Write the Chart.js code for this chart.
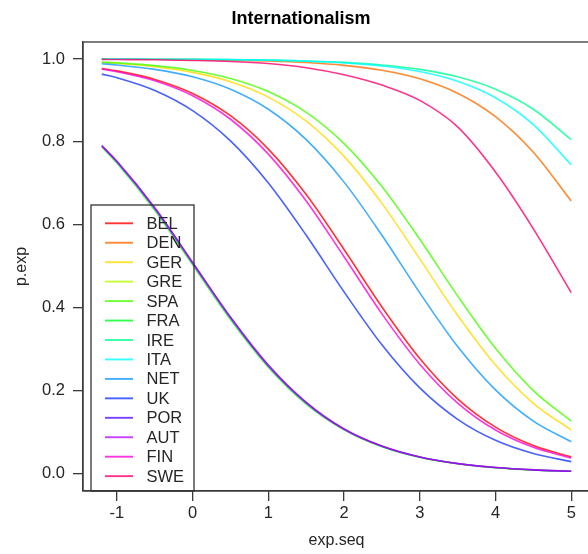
<!DOCTYPE html>
<html><head><meta charset="utf-8">
<script src="https://cdn.jsdelivr.net/npm/chart.js@4/dist/chart.umd.min.js"></script>
<style>html,body{margin:0;padding:0;background:#fff;overflow:hidden;} #wrap{width:602px;height:554px;}</style>
</head><body><div id="wrap"><canvas id="c" width="602" height="554"></canvas></div>
<script>
const titleText = "Internationalism";
const xTitle = "exp.seq";
const yTitle = "p.exp";
const countries = ["BEL","DEN","GER","GRE","SPA","FRA","IRE","ITA","NET","UK","POR","AUT","FIN","SWE"];
const colors = ["rgba(255,0,0,0.8)","rgba(255,109,0,0.8)","rgba(255,219,0,0.8)","rgba(182,255,0,0.8)","rgba(73,255,0,0.8)","rgba(0,255,36,0.8)","rgba(0,255,146,0.8)","rgba(0,255,255,0.8)","rgba(0,146,255,0.75)","rgba(0,36,255,0.72)","rgba(73,0,255,0.75)","rgba(182,0,255,0.75)","rgba(255,0,219,0.8)","rgba(255,0,109,0.8)"];
const xs = [-1.2,-1,-0.5,0,0.5,1,1.5,2,2.5,3,3.5,4,4.5,5];
const xTicks = [-1,0,1,2,3,4,5];
const yTicks = [0,0.2,0.4,0.6,0.8,1.0];

const BEL = [0.9769,0.9713,0.9507,0.9168,0.8630,0.7825,0.6726,0.5399,0.4013,0.2769,0.1795,0.1111,0.0666,0.0392];
const DEN = [0.9996,0.9995,0.9992,0.9985,0.9973,0.9952,0.9914,0.9846,0.9728,0.9521,0.9172,0.8606,0.7747,0.6570];
const GER = [0.9913,0.9891,0.9812,0.9677,0.9451,0.9080,0.8500,0.7649,0.6514,0.5175,0.3811,0.2612,0.1687,0.1043];
const GRE = [0.790,0.752,0.639,0.5075,0.375,0.259,0.169,0.106,0.0648,0.0388,0.0230,0.0135,0.0079,0.0046];
const SPA = [0.9925,0.9906,0.9839,0.9723,0.9530,0.9213,0.8710,0.7957,0.6921,0.5646,0.4280,0.3015,0.1994,0.1256];
const FRA = [0.788,0.749,0.635,0.503,0.371,0.256,0.167,0.105,0.0640,0.0383,0.0227,0.0133,0.0078,0.0045];
const IRE = [0.9998,0.9997,0.9995,0.9991,0.9984,0.9973,0.9952,0.9917,0.9855,0.9749,0.9569,0.9269,0.8787,0.8053];
const ITA = [0.9998,0.9997,0.9995,0.9992,0.9985,0.9972,0.9949,0.9907,0.9832,0.9698,0.9463,0.9064,0.8416,0.7446];
const NET = [0.9884,0.9855,0.9749,0.9569,0.9269,0.8787,0.8053,0.7027,0.5744,0.4354,0.3058,0.2010,0.1256,0.0759];
const UK  = [0.9634,0.9548,0.9241,0.8754,0.8022,0.7006,0.5744,0.4378,0.3100,0.2059,0.1301,0.0794,0.0474,0.0279];
const POR = [0.791,0.753,0.641,0.509,0.377,0.261,0.171,0.107,0.0655,0.0392,0.0233,0.0137,0.0080,0.0047];
const AUT = [0.790,0.752,0.639,0.507,0.375,0.259,0.170,0.106,0.0650,0.0389,0.0231,0.0136,0.0079,0.0046];
const FIN = [0.9753,0.9692,0.9473,0.9113,0.8545,0.7703,0.6570,0.5225,0.3846,0.2631,0.1694,0.1043,0.0624,0.0366];
const SWE = [0.9990,0.9987,0.9980,0.9965,0.9940,0.9890,0.9790,0.9620,0.9370,0.9000,0.8360,0.7270,0.5900,0.4360];

const series = [BEL,DEN,GER,GRE,SPA,FRA,IRE,ITA,NET,UK,POR,AUT,FIN,SWE];
const FONT = "'Liberation Sans', Arial, sans-serif";
const INK = "#262626";

const datasets = countries.map((name,i)=>({
  label: name,
  data: xs.map((x,j)=>({x:x, y:series[i][j]})),
  borderColor: colors[i],
  backgroundColor: colors[i],
  borderWidth: 1.6,
  pointRadius: 0,
  fill: false,
  cubicInterpolationMode: 'monotone',
  order: -i
}));

const framePlugin = {
  id: 'frame',
  afterDraw(chart){
    const {ctx, chartArea:a} = chart;
    ctx.save();
    ctx.strokeStyle = '#3a3a3a';
    ctx.lineWidth = 1.3;
    ctx.strokeRect(a.left, a.top, a.right - a.left, a.bottom - a.top);
    ctx.restore();
  }
};

const legendPlugin = {
  id: 'boxLegend',
  afterDraw(chart){
    const {ctx, chartArea:a} = chart;
    const left = 91, top = 205, right = 194, bottom = a.bottom;
    ctx.save();
    ctx.strokeStyle = '#333';
    ctx.lineWidth = 1.3;
    ctx.strokeRect(left, top, right-left, bottom-top);
    ctx.font = "16.5px " + FONT;
    ctx.textBaseline = 'middle';
    ctx.textAlign = 'left';
    countries.forEach((name,i)=>{
      const y = 223.3 + i*19.45;
      ctx.strokeStyle = colors[i];
      ctx.lineWidth = 1.9;
      ctx.beginPath(); ctx.moveTo(105,y); ctx.lineTo(133,y); ctx.stroke();
      ctx.fillStyle = INK;
      ctx.fillText(name, 146.5, y+1);
    });
    ctx.restore();
  }
};

new Chart(document.getElementById('c'), {
  type: 'line',
  data: { datasets },
  options: {
    responsive: false,
    animation: false,
    layout: { padding: { left: 12, right: 12, top: 0, bottom: 0 } },
    plugins: {
      legend: { display: false },
      tooltip: { enabled: false },
      title: {
        display: true, text: titleText, color: '#000',
        font: { family: FONT, size: 18, weight: 'bold' },
        padding: { top: 8, bottom: 12.4 }
      }
    },
    scales: {
      x: {
        type: 'linear', min: -1.448, max: 5.248,
        afterBuildTicks(s){ s.ticks = xTicks.map(v=>({value:v})); },
        afterFit(s){ s.height = 63; },
        ticks: { color: INK, font: { family: FONT, size: 16.5 }, padding: 3,
                 callback: v => String(v) , maxRotation: 0, autoSkip: false},
        grid: { drawOnChartArea: false, drawTicks: true, tickLength: 10, color: '#3a3a3a', lineWidth: 1.3 },
        border: { display: true, color: '#3a3a3a', width: 1.3 },
        title: { display: true, text: xTitle, color: INK, font: { family: FONT, size: 16 }, padding: { top: 0, bottom: 4 } }
      },
      y: {
        type: 'linear', min: -0.043, max: 1.041,
        afterBuildTicks(s){ s.ticks = yTicks.map(v=>({value:v})); },
        afterFit(s){ s.width = 71; },
        ticks: { color: INK, font: { family: FONT, size: 16.5 }, padding: 8,
                 callback: v => Number(v).toFixed(1), autoSkip: false },
        grid: { drawOnChartArea: false, drawTicks: true, tickLength: 10, color: '#3a3a3a', lineWidth: 1.3 },
        border: { display: true, color: '#3a3a3a', width: 1.3 },
        title: { display: true, text: yTitle, color: INK, font: { family: FONT, size: 16 }, padding: { top: -0.5, bottom: 0 } }
      }
    }
  },
  plugins: [framePlugin, legendPlugin]
});
</script>
</body></html>
